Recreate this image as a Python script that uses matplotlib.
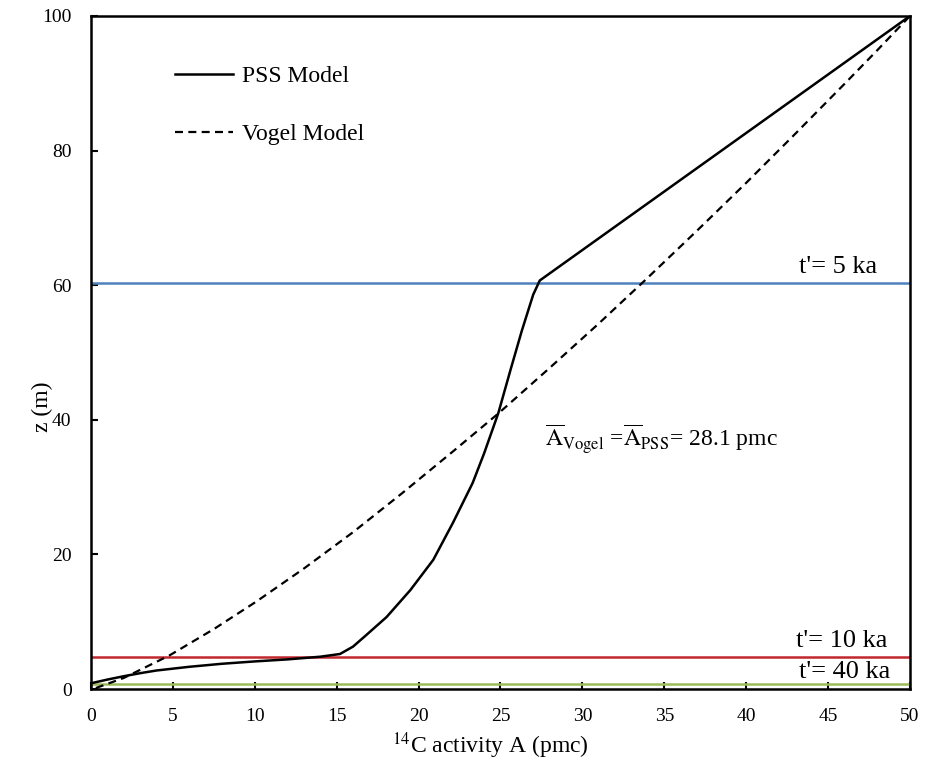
import matplotlib
matplotlib.use("Agg")
import matplotlib.pyplot as plt

plt.rcParams['font.family'] = ['Liberation Serif', 'DejaVu Serif']
plt.rcParams['mathtext.fontset'] = 'stix'

# PSS model profile
pss_A = [0, 1, 2, 3, 4, 6, 8, 10, 12, 14, 15.2, 16.0, 16.8, 18.05, 19.5, 20.9,
         22.1, 23.3, 24.0, 24.87, 25.6, 26.3, 27.0, 27.4, 50]
pss_z = [0.85, 1.4, 1.9, 2.35, 2.75, 3.3, 3.75, 4.1, 4.4, 4.8, 5.2, 6.3, 8.0, 10.7,
         14.7, 19.2, 24.7, 30.6, 35.0, 41.0, 47.3, 53.2, 58.6, 60.7, 100]

# Vogel model profile
vogel_A = [0.3, 2, 4.8, 7.5, 10.1, 13, 16, 19, 22.2, 24.9, 28, 31, 33.9, 37, 40,
           43, 46, 48, 50]
vogel_z = [0.15, 1.64, 5.0, 8.9, 13.0, 17.9, 23.3, 29.1, 35.5, 41.0, 47.7, 54.3,
           60.9, 68.1, 75.2, 82.5, 89.9, 94.9, 100]

# isochrones
iso_z = [60.4, 4.75, 0.8]
iso_labels = ["t'= 5 ka", "t'= 10 ka", "t'= 40 ka"]
iso_colors = ['#4f81bd', '#c0282d', '#9bbb59']
iso_label_x = [48.0, 48.65, 48.8]
iso_label_z = [61.8, 6.3, 1.6]

fig = plt.figure(figsize=(9.31, 7.61), dpi=100)
ax = fig.add_axes([0.0977, 0.0946, 0.8797, 0.8844])

for z, c in zip(iso_z, iso_colors):
    ax.axhline(z, color=c, lw=1.8)
for x, z, t in zip(iso_label_x, iso_label_z, iso_labels):
    ax.text(x, z, t, ha='right', va='baseline', fontsize=19)

ax.plot(pss_A, pss_z, color='black', lw=1.8, label='PSS Model')
ax.plot(vogel_A, vogel_z, color='black', lw=1.6, ls=(0, (3.6, 2.4)), label='Vogel Model')

ax.text(27.7, 36.0,
        r"$\overline{\mathrm{A}}_{\mathrm{Vogel}}$ =$\overline{\mathrm{A}}_{\mathrm{PSS}}$= 28.1 pmc",
        fontsize=17, va='baseline')

leg = ax.legend(loc='upper left', bbox_to_anchor=(0.1026, 0.926), frameon=False,
                fontsize=17, handlelength=2.45, labelspacing=1.55, handletextpad=0.4,
                borderpad=0, borderaxespad=0)

ax.set_xlim(0, 50)
ax.set_ylim(0, 100)
ax.set_xticks(range(0, 51, 5))
ax.set_yticks(range(0, 101, 20))
ax.tick_params(direction='in', length=5, width=1.5, labelsize=14, pad=14,
               top=False, right=False)
for s in ax.spines.values():
    s.set_linewidth(1.8)

ax.set_xlabel(r"$^{14}$C activity A (pmc)", fontsize=17)
ax.set_ylabel("z (m)", fontsize=17)
ax.xaxis.set_label_coords(0.488, -0.062)
ax.yaxis.set_label_coords(-0.046, 0.42)

fig.savefig('out.png', dpi=100)
